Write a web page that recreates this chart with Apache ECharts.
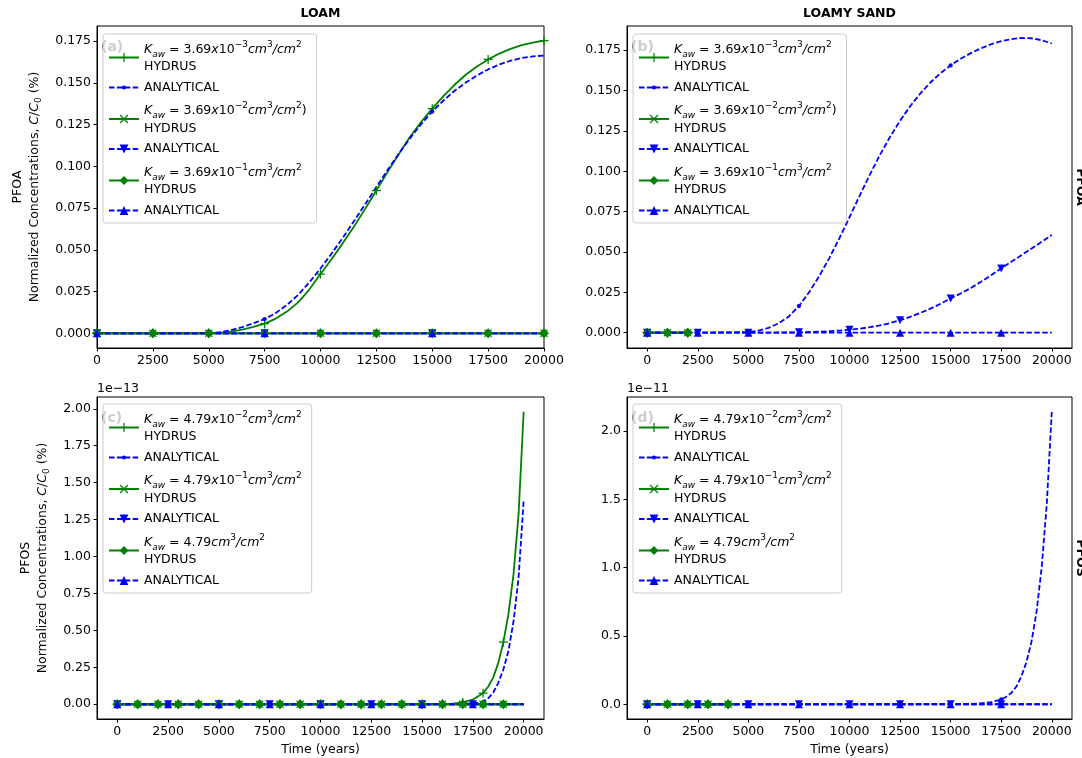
<!DOCTYPE html>
<html>
<head>
<meta charset="utf-8">
<script src="https://cdn.jsdelivr.net/npm/echarts@6/dist/echarts.min.js"></script>
<style>
  html, body { margin: 0; padding: 0; background: #fff; }
  #chart { width: 1082px; height: 758px; }
</style>
</head>
<body>
<div id="chart"></div>
<script>
// ---------- tick labels ----------
const yearTicks = [0, 2500, 5000, 7500, 10000, 12500, 15000, 17500, 20000];
const pfoaTicks = [0, 0.025, 0.05, 0.075, 0.1, 0.125, 0.15, 0.175];
const pfosLoamTicks = [0, 0.25, 0.5, 0.75, 1, 1.25, 1.5, 1.75, 2];   // x 1e-13
const pfosSandTicks = [0, 0.5, 1, 1.5, 2];                            // x 1e-11

// ---------- years that carry a marker ----------
const marksEvery2500 = [0, 2500, 5000, 7500, 10000, 12500, 15000, 17500, 20000];
const marksEvery2500To17500 = [0, 2500, 5000, 7500, 10000, 12500, 15000, 17500];
const marksEvery7500 = [0, 7500, 15000];
const marksEvery1000To19000 = [0, 1000, 2000, 3000, 4000, 5000, 6000, 7000, 8000, 9000, 10000,
  11000, 12000, 13000, 14000, 15000, 16000, 17000, 18000, 19000];
const marksEvery1000To4000 = [0, 1000, 2000, 3000, 4000];

// ---------- LOAM, PFOA (C/C0 %) ----------
const loamPfoaYears = [0, 2500, 5000, 5500, 6000, 6500, 7000, 7500, 8000, 8500, 9000, 9500, 10000,
  10500, 11000, 11500, 12000, 12500, 13000, 13500, 14000, 14500, 15000, 15500, 16000, 16500, 17000,
  17500, 18000, 18500, 19000, 19500, 20000];
const loamPfoaHydrus1 = [0, 0, 0, 0.0003, 0.001, 0.0022, 0.0038, 0.0058, 0.0088, 0.013, 0.0185, 0.0262,
  0.0355, 0.0445, 0.054, 0.064, 0.0745, 0.0855, 0.0965, 0.1072, 0.1175, 0.1265, 0.1345, 0.142, 0.1488,
  0.1548, 0.1598, 0.164, 0.1675, 0.1703, 0.1725, 0.1741, 0.1752];
const loamPfoaAnalytical1 = [0, 0, 0.0001, 0.0007, 0.0019, 0.0037, 0.006, 0.0085, 0.0122, 0.017, 0.023,
  0.0305, 0.0388, 0.0478, 0.0573, 0.0672, 0.0773, 0.0876, 0.0977, 0.1075, 0.1167, 0.1252, 0.1328, 0.1394,
  0.1452, 0.1501, 0.1544, 0.158, 0.161, 0.1632, 0.1648, 0.1658, 0.1663];
const loamPfoaFlatYears = [0, 2500, 5000, 7500, 10000, 12500, 15000, 17500, 20000];
const loamPfoaHydrus2 = [0, 0, 0, 0, 0, 0, 0, 0, 0];
const loamPfoaAnalytical2 = [0, 0, 0, 0, 0, 0, 0, 0, 0];
const loamPfoaHydrus3 = [0, 0, 0, 0, 0, 0, 0, 0, 0];
const loamPfoaAnalytical3 = [0, 0, 0, 0, 0, 0, 0, 0, 0];

// ---------- LOAMY SAND, PFOA (C/C0 %) ----------
const sandPfoaHydrusYears = [0, 1000, 2000];
const sandPfoaHydrus1 = [0, 0, 0];
const sandPfoaHydrus2 = [0, 0, 0];
const sandPfoaHydrus3 = [0, 0, 0];
const sandPfoaYears = [0, 2500, 5000, 5500, 6000, 6500, 7000, 7500, 8000, 8500, 9000, 9500, 10000,
  10500, 11000, 11500, 12000, 12500, 13000, 13500, 14000, 14500, 15000, 15500, 16000, 16500, 17000,
  17500, 18000, 18500, 19000, 19500, 20000];
const sandPfoaAnalytical1 = [0, 0, 0.0003, 0.0012, 0.003, 0.0058, 0.01, 0.0165, 0.025, 0.035, 0.0462,
  0.0585, 0.0715, 0.0848, 0.0978, 0.11, 0.1212, 0.1313, 0.1403, 0.1482, 0.155, 0.1608, 0.1656, 0.1697,
  0.1732, 0.1762, 0.1787, 0.1806, 0.1819, 0.1826, 0.1824, 0.1812, 0.1792];
const sandPfoaAnalytical2 = [0, 0, 0, 0, 0, 0.0001, 0.0001, 0.0002, 0.0004, 0.0006, 0.0009, 0.0013,
  0.0018, 0.0025, 0.0034, 0.0045, 0.0059, 0.0077, 0.0098, 0.0122, 0.0149, 0.0179, 0.0212, 0.0243,
  0.0277, 0.0315, 0.0356, 0.0398, 0.0439, 0.048, 0.0521, 0.0563, 0.0605];
const sandPfoaFlatYears = [0, 2500, 5000, 7500, 10000, 12500, 15000, 17500, 20000];
const sandPfoaAnalytical3 = [0, 0, 0, 0, 0, 0, 0, 0, 0];

// ---------- LOAM, PFOS (C/C0 %, in units of 1e-13) ----------
const loamPfosHydrusYears = [0, 1000, 2000, 3000, 4000, 5000, 6000, 7000, 8000, 9000, 10000, 11000,
  12000, 13000, 14000, 15000, 16000, 16500, 17000, 17500, 18000, 18250, 18500, 18750, 19000, 19250,
  19500, 19750, 20000];
const loamPfosHydrus1 = [0, 0, 0, 0, 0, 0, 0, 0, 0, 0, 0, 0, 0, 0, 0, 0, 0.001, 0.004, 0.012, 0.032,
  0.075, 0.118, 0.18, 0.28, 0.42, 0.61, 0.88, 1.29, 1.98];
const loamPfosAnalyticalYears = [0, 2500, 5000, 7500, 10000, 12500, 15000, 16000, 16500, 17000, 17500,
  17750, 18000, 18250, 18500, 18750, 19000, 19250, 19500, 19750, 20000];
const loamPfosAnalytical1 = [0, 0, 0, 0, 0, 0, 0, 0.0002, 0.0007, 0.002, 0.006, 0.011, 0.02, 0.04,
  0.078, 0.145, 0.235, 0.36, 0.56, 0.86, 1.38];
const loamPfosHydrusFlatYears = [0, 1000, 2000, 3000, 4000, 5000, 6000, 7000, 8000, 9000, 10000,
  11000, 12000, 13000, 14000, 15000, 16000, 17000, 18000, 19000, 20000];
const loamPfosHydrus2 = [0, 0, 0, 0, 0, 0, 0, 0, 0, 0, 0, 0, 0, 0, 0, 0, 0, 0, 0, 0, 0];
const loamPfosHydrus3 = [0, 0, 0, 0, 0, 0, 0, 0, 0, 0, 0, 0, 0, 0, 0, 0, 0, 0, 0, 0, 0];
const loamPfosAnalyticalFlatYears = [0, 2500, 5000, 7500, 10000, 12500, 15000, 17500, 20000];
const loamPfosAnalytical2 = [0, 0, 0, 0, 0, 0, 0, 0, 0];
const loamPfosAnalytical3 = [0, 0, 0, 0, 0, 0, 0, 0, 0];

// ---------- LOAMY SAND, PFOS (C/C0 %, in units of 1e-11) ----------
const sandPfosHydrusYears = [0, 1000, 2000, 3000, 4000, 4500];
const sandPfosHydrus1 = [0, 0, 0, 0, 0, 0];
const sandPfosHydrus2 = [0, 0, 0, 0, 0, 0];
const sandPfosHydrus3 = [0, 0, 0, 0, 0, 0];
const sandPfosAnalyticalYears = [0, 2500, 5000, 7500, 10000, 12500, 15000, 16000, 16500, 17000, 17500,
  17750, 18000, 18250, 18500, 18750, 19000, 19250, 19500, 19750, 20000];
const sandPfosAnalytical1 = [0, 0, 0, 0, 0, 0, 0.0005, 0.003, 0.007, 0.016, 0.035, 0.055, 0.082, 0.13,
  0.205, 0.31, 0.46, 0.68, 1.0, 1.46, 2.14];
const sandPfosFlatYears = [0, 2500, 5000, 7500, 10000, 12500, 15000, 17500, 20000];
const sandPfosAnalytical2 = [0, 0, 0, 0, 0, 0, 0, 0, 0];
const sandPfosAnalytical3 = [0, 0, 0, 0, 0, 0, 0, 0, 0];

// ---------- legend texts (rich text) ----------
const pfoaKawLabels = [
  '{k|K}{s|aw}{n| = 3.69}{k|x}{n|10}{p|\u22123}{k|cm}{p|3}{k|/cm}{p|2}',
  '{k|K}{s|aw}{n| = 3.69}{k|x}{n|10}{p|\u22122}{k|cm}{p|3}{k|/cm}{p|2}{n|)}',
  '{k|K}{s|aw}{n| = 3.69}{k|x}{n|10}{p|\u22121}{k|cm}{p|3}{k|/cm}{p|2}'
];
const pfosKawLabels = [
  '{k|K}{s|aw}{n| = 4.79}{k|x}{n|10}{p|\u22122}{k|cm}{p|3}{k|/cm}{p|2}',
  '{k|K}{s|aw}{n| = 4.79}{k|x}{n|10}{p|\u22121}{k|cm}{p|3}{k|/cm}{p|2}',
  '{k|K}{s|aw}{n| = 4.79}{k|cm}{p|3}{k|/cm}{p|2}'
];

// ---------- styling ----------
const GREEN = '#008000';
const BLUE = '#0000ff';
const FONT = 'DejaVu Sans';
const DASH = [5.5, 2.4];
const PLUS = 'path://M4.3,0H5.7V4.3H10V5.7H5.7V10H4.3V5.7H0V4.3H4.3Z';
const CROSS = 'path://M1,0L5,4L9,0L10,1L6,5L10,9L9,10L5,6L1,10L0,9L4,5L0,1Z';
// small point centred in a 10x10 box, so the legend keeps it small too
const DOT = 'path://M0,0L0.01,0Z M10,10L9.99,10Z M7.4,5A2.4,2.4,0,1,1,2.6,5A2.4,2.4,0,1,1,7.4,5Z';
const HYDRUS_MARKS = [
  { symbol: PLUS, size: 9 },
  { symbol: CROSS, size: 8 },
  { symbol: 'diamond', size: 10 }
];
const ANALYTICAL_MARKS = [
  { symbol: DOT, size: 9 },
  { symbol: 'triangle', size: 8, rotate: 180 },
  { symbol: 'triangle', size: 8 }
];

function points(xs, ys, marked) {
  return xs.map((x, i) => marked.indexOf(x) >= 0
    ? [x, ys[i]]
    : { value: [x, ys[i]], symbol: 'none' });
}

function curve(name, grid, isHydrus, k, xs, ys, marked) {
  const m = (isHydrus ? HYDRUS_MARKS : ANALYTICAL_MARKS)[k];
  const color = isHydrus ? GREEN : BLUE;
  return {
    type: 'line', name, xAxisIndex: grid, yAxisIndex: grid,
    data: points(xs, ys, marked),
    symbol: m.symbol, symbolSize: m.size, symbolRotate: m.rotate || 0,
    showSymbol: true,
    lineStyle: { color, width: 1.8, type: isHydrus ? 'solid' : DASH },
    itemStyle: { color, borderWidth: 0 },
    silent: true, animation: false, z: 2
  };
}

const series = [
  // LOAM PFOA
  curve('a-H1', 0, true, 0, loamPfoaYears, loamPfoaHydrus1, marksEvery2500),
  curve('a-A1', 0, false, 0, loamPfoaYears, loamPfoaAnalytical1, marksEvery7500),
  curve('a-H2', 0, true, 1, loamPfoaFlatYears, loamPfoaHydrus2, marksEvery2500),
  curve('a-A2', 0, false, 1, loamPfoaFlatYears, loamPfoaAnalytical2, marksEvery7500),
  curve('a-H3', 0, true, 2, loamPfoaFlatYears, loamPfoaHydrus3, marksEvery2500),
  curve('a-A3', 0, false, 2, loamPfoaFlatYears, loamPfoaAnalytical3, marksEvery7500),
  // LOAMY SAND PFOA
  curve('b-H1', 1, true, 0, sandPfoaHydrusYears, sandPfoaHydrus1, marksEvery1000To4000),
  curve('b-A1', 1, false, 0, sandPfoaYears, sandPfoaAnalytical1, marksEvery7500),
  curve('b-H2', 1, true, 1, sandPfoaHydrusYears, sandPfoaHydrus2, marksEvery1000To4000),
  curve('b-A2', 1, false, 1, sandPfoaYears, sandPfoaAnalytical2, marksEvery2500To17500),
  curve('b-H3', 1, true, 2, sandPfoaHydrusYears, sandPfoaHydrus3, marksEvery1000To4000),
  curve('b-A3', 1, false, 2, sandPfoaFlatYears, sandPfoaAnalytical3, marksEvery2500To17500),
  // LOAM PFOS
  curve('c-H1', 2, true, 0, loamPfosHydrusYears, loamPfosHydrus1, marksEvery1000To19000),
  curve('c-A1', 2, false, 0, loamPfosAnalyticalYears, loamPfosAnalytical1, marksEvery2500To17500),
  curve('c-H2', 2, true, 1, loamPfosHydrusFlatYears, loamPfosHydrus2, marksEvery1000To19000),
  curve('c-A2', 2, false, 1, loamPfosAnalyticalFlatYears, loamPfosAnalytical2, marksEvery2500To17500),
  curve('c-H3', 2, true, 2, loamPfosHydrusFlatYears, loamPfosHydrus3, marksEvery1000To19000),
  curve('c-A3', 2, false, 2, loamPfosAnalyticalFlatYears, loamPfosAnalytical3, marksEvery2500To17500),
  // LOAMY SAND PFOS
  curve('d-H1', 3, true, 0, sandPfosHydrusYears, sandPfosHydrus1, marksEvery1000To4000),
  curve('d-A1', 3, false, 0, sandPfosAnalyticalYears, sandPfosAnalytical1, marksEvery2500To17500),
  curve('d-H2', 3, true, 1, sandPfosHydrusYears, sandPfosHydrus2, marksEvery1000To4000),
  curve('d-A2', 3, false, 1, sandPfosFlatYears, sandPfosAnalytical2, marksEvery2500To17500),
  curve('d-H3', 3, true, 2, sandPfosHydrusYears, sandPfosHydrus3, marksEvery1000To4000),
  curve('d-A3', 3, false, 2, sandPfosFlatYears, sandPfosAnalytical3, marksEvery2500To17500)
];

const LEGEND_RICH = {
  k: { fontFamily: FONT, fontStyle: 'italic', fontSize: 12.5, lineHeight: 19, color: '#000' },
  n: { fontFamily: FONT, fontSize: 12.5, lineHeight: 19, color: '#000' },
  s: { fontFamily: FONT, fontStyle: 'italic', fontSize: 9, lineHeight: 11, verticalAlign: 'bottom', color: '#000' },
  p: { fontFamily: FONT, fontSize: 9, lineHeight: 10, verticalAlign: 'top', color: '#000' },
  h: { fontFamily: FONT, fontSize: 12.5, lineHeight: 16, color: '#000' }
};

function legendFor(prefix, kawLabels, left, top) {
  const names = ['H1', 'A1', 'H2', 'A2', 'H3', 'A3'].map(s => prefix + '-' + s);
  const text = {};
  names.forEach((n, i) => {
    text[n] = i % 2 === 0 ? kawLabels[i / 2] + '\n{h|HYDRUS}' : '{h|ANALYTICAL}';
  });
  return {
    orient: 'vertical', left, top, data: names,
    formatter: n => text[n],
    itemWidth: 30, itemHeight: 11, itemGap: 7.5,
    padding: [6, 10, 6, 5],
    backgroundColor: 'rgba(255,255,255,0.8)',
    borderColor: '#cccccc', borderWidth: 1, borderRadius: 3,
    selectedMode: false, z: 4,
    textStyle: { color: '#000', fontFamily: FONT, fontSize: 12.5, rich: LEGEND_RICH }
  };
}

function valueAxis(grid, min, max, ticks, digits, extra) {
  return Object.assign({
    type: 'value', gridIndex: grid, min, max,
    axisLine: { show: true, onZero: false, lineStyle: { color: '#000', width: 1 } },
    axisTick: { show: true, length: 3.5, customValues: ticks, lineStyle: { color: '#000', width: 1 } },
    axisLabel: {
      customValues: ticks,
      formatter: v => digits === null ? String(Math.round(v)) : Number(v).toFixed(digits),
      color: '#000', fontSize: 12.5, fontFamily: FONT, margin: 6
    },
    splitLine: { show: false }
  }, extra || {});
}

const Y_NAME_STYLE = {
  color: '#000', fontFamily: FONT, fontSize: 12.5, lineHeight: 17,
  rich: {
    i: { fontFamily: FONT, fontStyle: 'italic', fontSize: 12.5, lineHeight: 17, color: '#000' },
    sub: { fontFamily: FONT, fontSize: 9, lineHeight: 8, verticalAlign: 'bottom', color: '#000' }
  }
};
const X_NAME = {
  name: 'Time (years)', nameLocation: 'middle', nameGap: 24,
  nameTextStyle: { color: '#000', fontFamily: FONT, fontSize: 12.5 }
};

const grids = [
  { left: 97, top: 26, width: 447, height: 322 },
  { left: 627, top: 26, width: 445, height: 322 },
  { left: 97, top: 397, width: 447, height: 322 },
  { left: 627, top: 397, width: 445, height: 322 }
].map(g => Object.assign({ show: true, borderColor: '#000', borderWidth: 1, backgroundColor: 'transparent', containLabel: false }, g));

const xAxes = [
  valueAxis(0, 0, 20000, yearTicks, null),
  valueAxis(1, -1000, 21000, yearTicks, null),
  valueAxis(2, -1000, 21000, yearTicks, null, X_NAME),
  valueAxis(3, -1000, 21000, yearTicks, null, X_NAME)
];
const yAxes = [
  valueAxis(0, -0.0088, 0.184, pfoaTicks, 3, {
    name: 'PFOA\nNormalized Concentrations, {i|C}/{i|C}{sub|0} (%)',
    nameLocation: 'middle', nameGap: 54, nameTextStyle: Y_NAME_STYLE
  }),
  valueAxis(1, -0.0095, 0.19, pfoaTicks, 3),
  valueAxis(2, -0.1, 2.08, pfosLoamTicks, 2, {
    name: 'PFOS\nNormalized Concentrations, {i|C}/{i|C}{sub|0} (%)',
    nameLocation: 'middle', nameGap: 46, nameTextStyle: Y_NAME_STYLE
  }),
  valueAxis(3, -0.108, 2.25, pfosSandTicks, 1)
];

function label(text, x, y, font, extra) {
  return Object.assign({
    type: 'text', x, y, z: 3, silent: true,
    style: { text, fill: '#000', font, align: 'left', verticalAlign: 'middle', textAlign: 'left', textVerticalAlign: 'middle' }
  }, extra || {});
}
function centred(text, x, y, font, extra) {
  const el = label(text, x, y, font, extra);
  el.style.align = 'center';
  el.style.textAlign = 'center';
  return el;
}

const graphics = [
  centred('LOAM', 320.5, 14, 'bold 12.5px DejaVu Sans'),
  centred('LOAMY SAND', 849.5, 14, 'bold 12.5px DejaVu Sans'),
  label('(a)', 101, 47, 'bold 14px DejaVu Sans'),
  label('(b)', 631, 47, 'bold 14px DejaVu Sans'),
  label('(c)', 101, 418, 'bold 14px DejaVu Sans'),
  label('(d)', 631, 418, 'bold 14px DejaVu Sans'),
  label('1e\u221213', 97, 389, '12.5px DejaVu Sans'),
  label('1e\u221211', 627, 389, '12.5px DejaVu Sans'),
  centred('PFOA', 1080, 187, 'bold 12.5px DejaVu Sans', { rotation: -Math.PI / 2 }),
  centred('PFOS', 1080, 558, 'bold 12.5px DejaVu Sans', { rotation: -Math.PI / 2 })
];

const chart = echarts.init(document.getElementById('chart'), null, { renderer: 'canvas' });
chart.setOption({
  animation: false,
  backgroundColor: '#ffffff',
  grid: grids,
  xAxis: xAxes,
  yAxis: yAxes,
  legend: [
    legendFor('a', pfoaKawLabels, 103, 34),
    legendFor('b', pfoaKawLabels, 633, 34),
    legendFor('c', pfosKawLabels, 103, 404),
    legendFor('d', pfosKawLabels, 633, 404)
  ],
  graphic: { elements: graphics },
  series
});
</script>
</body>
</html>
